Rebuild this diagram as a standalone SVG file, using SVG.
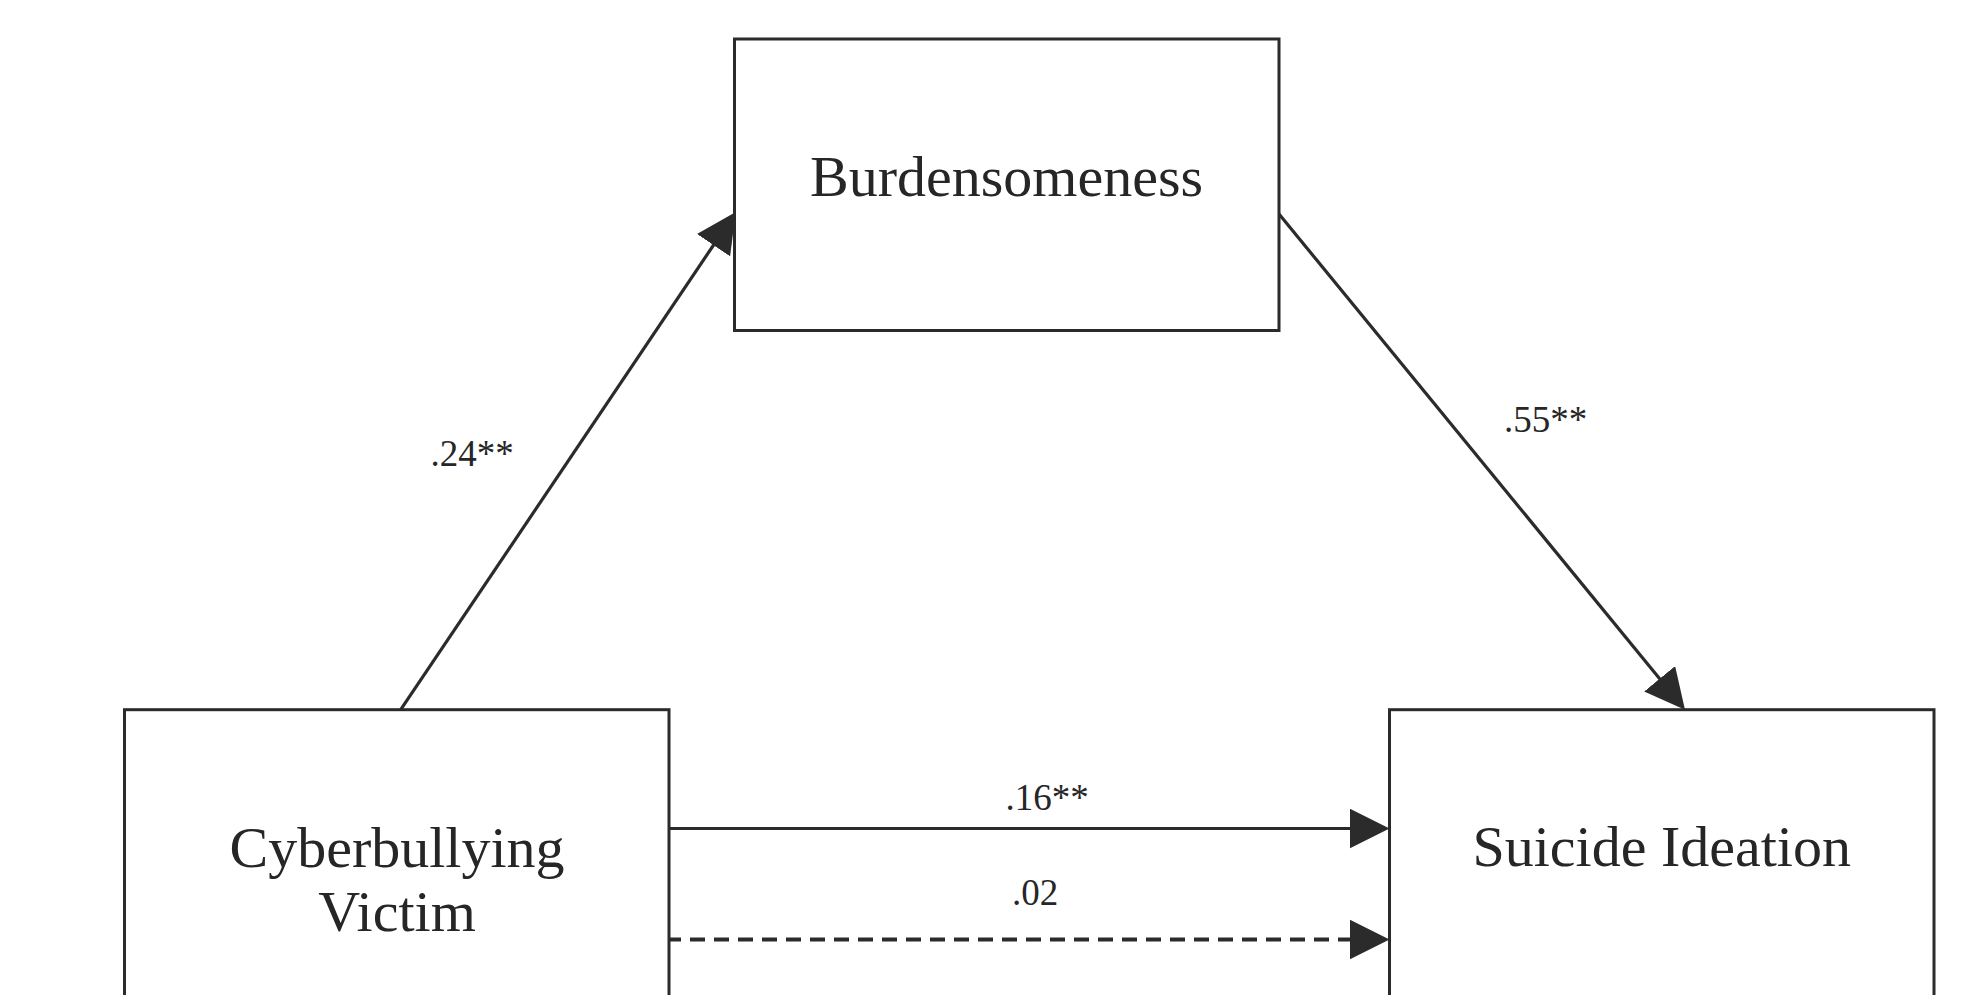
<svg xmlns="http://www.w3.org/2000/svg" width="1982" height="995" viewBox="0 0 1982 995">
  <style>
    .box { fill: #ffffff; stroke: #2b2b2b; stroke-width: 3; }
    .node-label { font-family: "Liberation Serif", "Times New Roman", serif; font-size: 58px; fill: #262626; text-anchor: middle; }
    .edge-label { font-family: "Liberation Serif", "Times New Roman", serif; font-size: 37px; fill: #262626; }
    .edge { fill: none; stroke: #2b2b2b; stroke-width: 3.2; }
    .dashed { stroke-width: 4; stroke-dasharray: 15 9; }
  </style>
  <defs>
    <marker id="arrow" markerUnits="userSpaceOnUse" markerWidth="42" markerHeight="40" refX="2" refY="20" orient="auto" viewBox="0 0 42 40">
      <path d="M0,0 L40,20 L0,40 Z" fill="#2b2b2b"/>
    </marker>
  </defs>
  <rect width="1982" height="995" fill="#ffffff"/>
  <g id="connectors">
    <path class="edge" d="M400.7,709.7 L714.6,243.5" marker-end="url(#arrow)"/>
    <path class="edge" d="M1279,214 L1660.9,680.3" marker-end="url(#arrow)"/>
    <path class="edge" d="M669,828.5 L1351.5,828.5" marker-end="url(#arrow)"/>
    <path class="edge dashed" d="M666,939.5 L1351.5,939.5" marker-end="url(#arrow)"/>
    <text class="edge-label" x="430.5" y="466">.24**</text>
    <text class="edge-label" x="1504" y="432">.55**</text>
    <text class="edge-label" x="1005.5" y="810">.16**</text>
    <text class="edge-label" x="1012" y="905">.02</text>
  </g>
  <g id="burdensomeness">
    <rect class="box" x="734.5" y="39" width="544.5" height="291.5"/>
    <text class="node-label" x="1006.5" y="196">Burdensomeness</text>
  </g>
  <g id="cyberbullying-victim">
    <rect class="box" x="124.5" y="709.7" width="544.5" height="292"/>
    <text class="node-label" x="397" y="867">Cyberbullying</text>
    <text class="node-label" x="397" y="931">Victim</text>
  </g>
  <g id="suicide-ideation">
    <rect class="box" x="1389.5" y="709.7" width="544.5" height="292"/>
    <text class="node-label" x="1661.75" y="866">Suicide Ideation</text>
  </g>
</svg>
